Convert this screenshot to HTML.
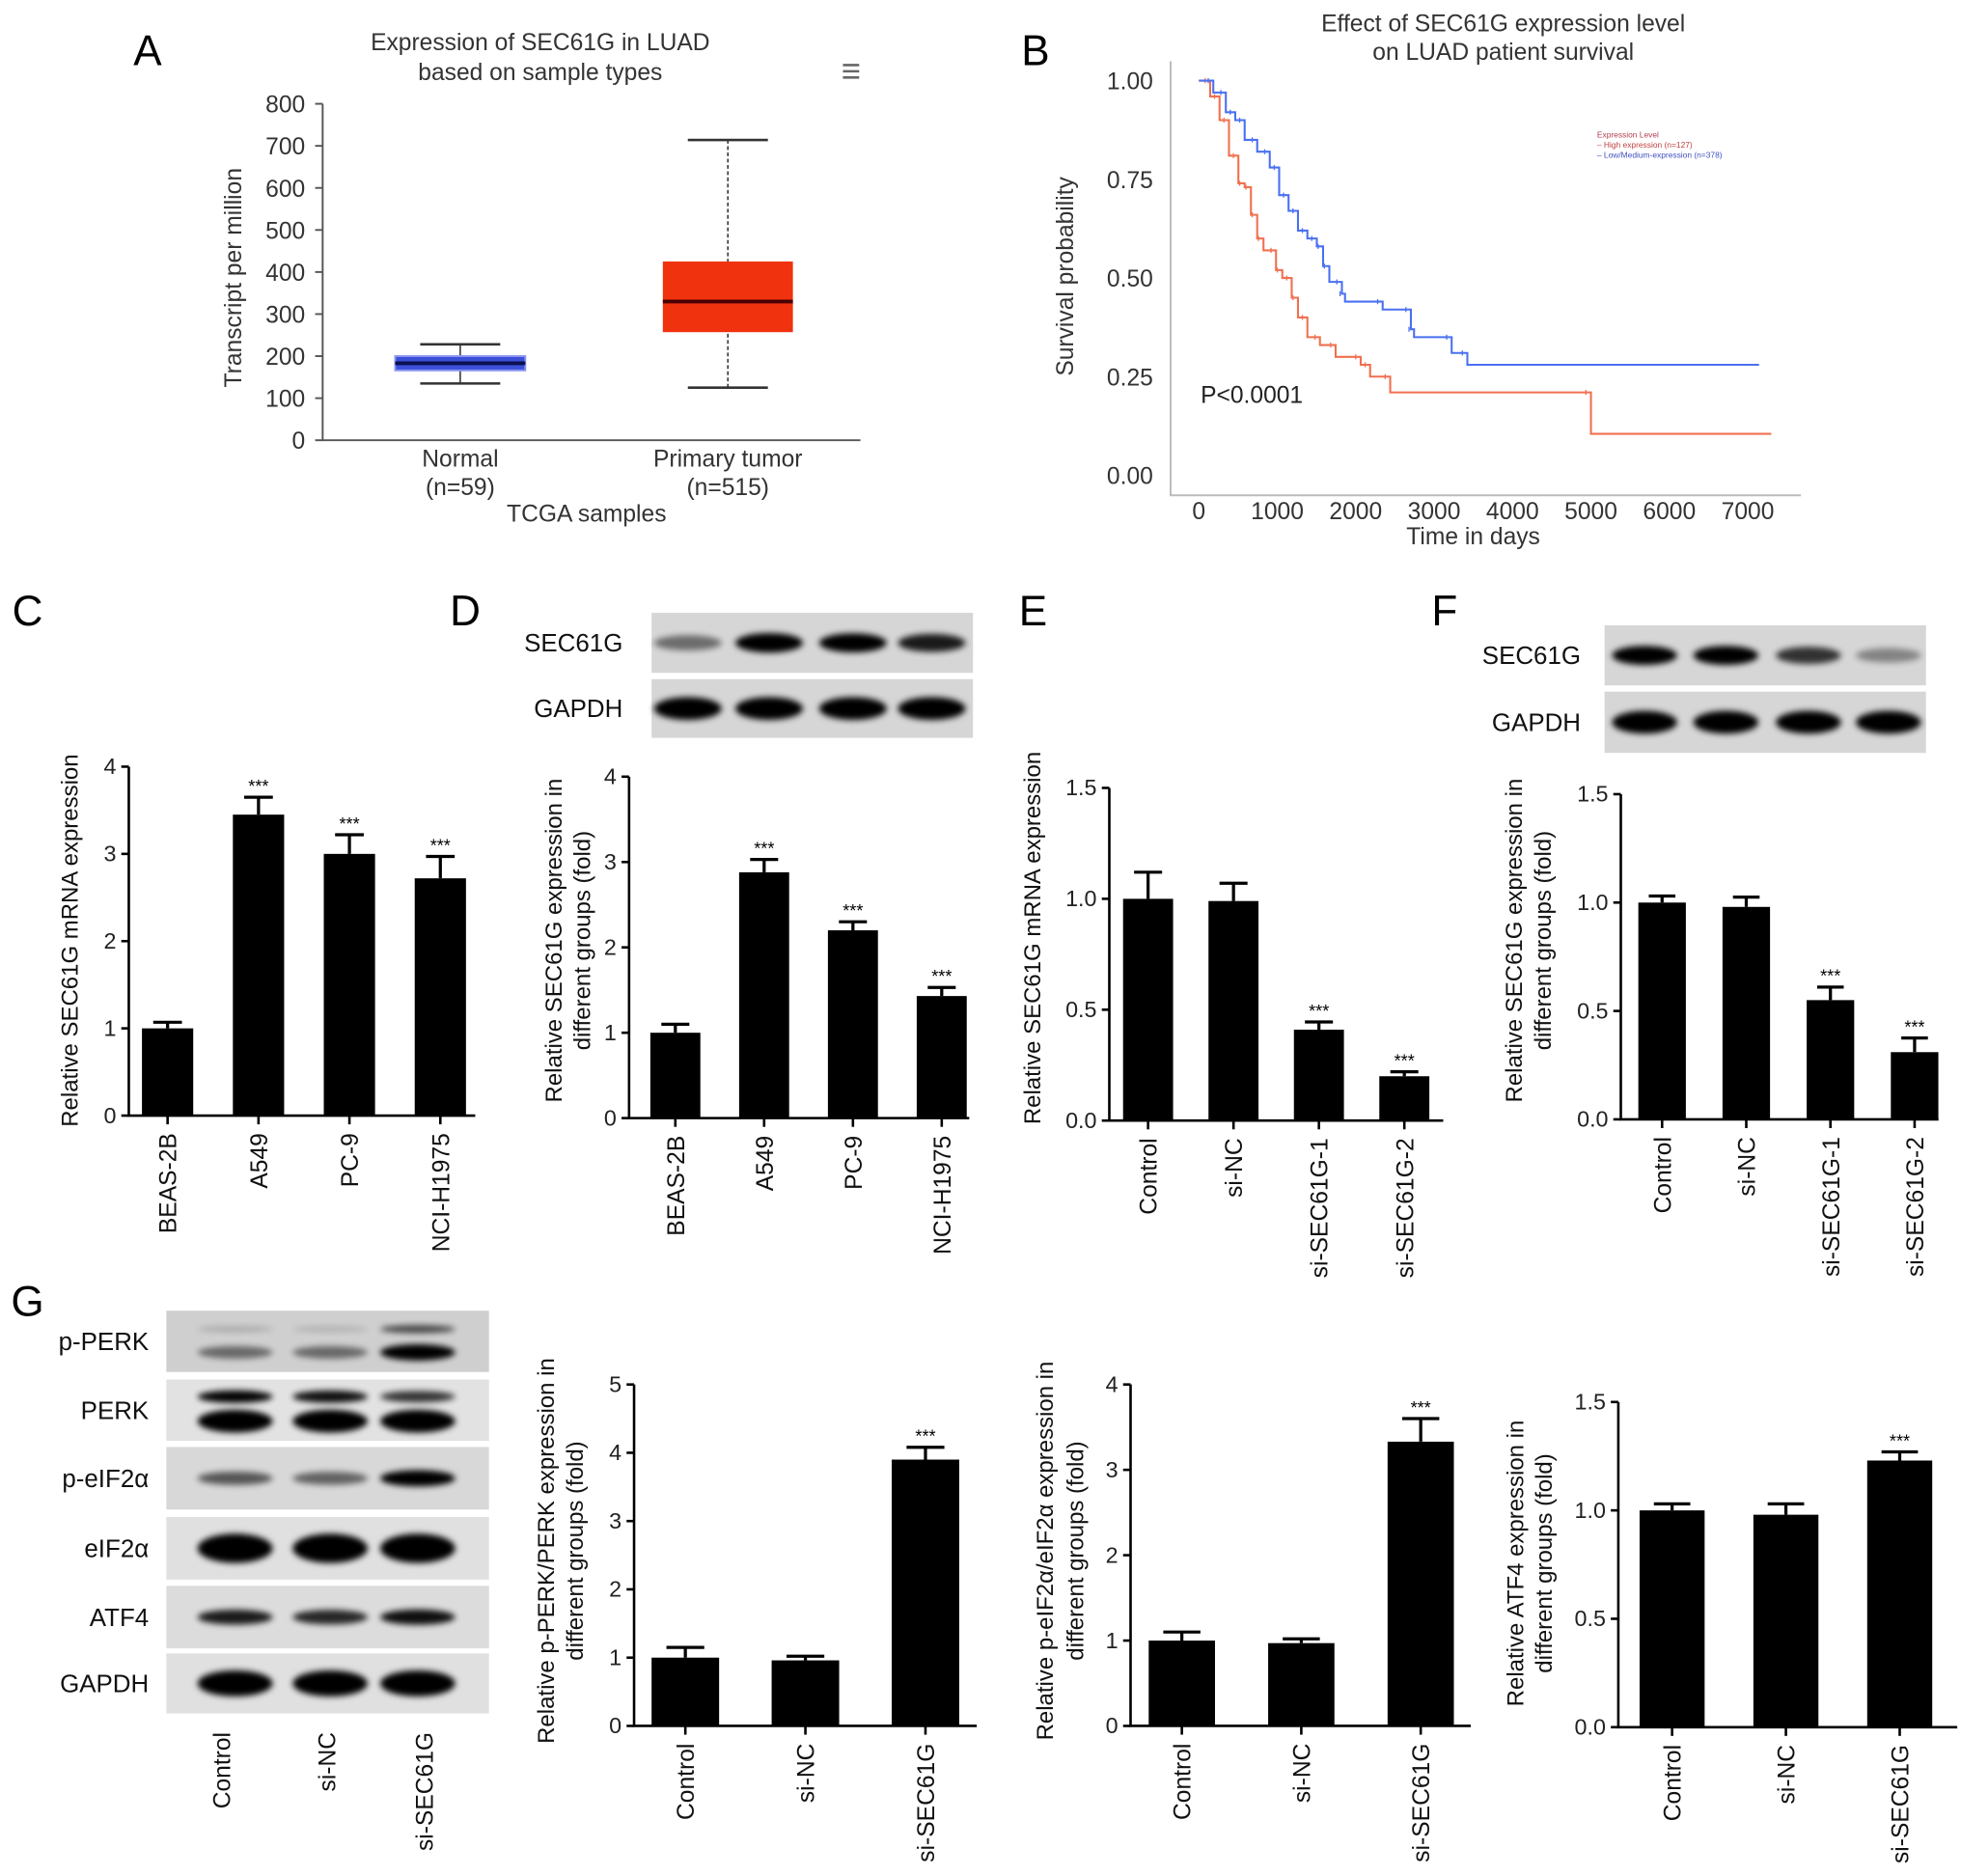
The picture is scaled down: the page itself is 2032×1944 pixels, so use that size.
<!DOCTYPE html>
<html><head><meta charset="utf-8"><style>
html,body{margin:0;padding:0;background:#fff;}
svg{display:block;font-family:"Liberation Sans",Arial,sans-serif;}
</style></head><body>
<svg id="fig" xmlns="http://www.w3.org/2000/svg" width="2032" height="1944" viewBox="0 0 1568 1500" preserveAspectRatio="none">
<defs>
<filter id="blur" x="-30%" y="-60%" width="160%" height="220%"><feGaussianBlur stdDeviation="2.4"/></filter>
</defs>
</svg>
<script>
// ---------- DATA ----------
const boxCats = ["Normal", "Primary tumor"];
const boxN = ["(n=59)", "(n=515)"];
const boxMin = [135, 125];
const boxQ1 = [166, 257];
const boxMed = [183, 330];
const boxQ3 = [200, 425];
const boxMax = [228, 714];
const boxTicks = [0, 100, 200, 300, 400, 500, 600, 700, 800];
const redT = [0, 144, 264, 384, 504, 584, 664, 744, 824, 984, 1064, 1184, 1264, 1384, 1544, 1744, 2064, 2184, 2440, 5000, 7300];
const redS = [1.0, 0.96, 0.90, 0.81, 0.74, 0.73, 0.66, 0.60, 0.57, 0.52, 0.50, 0.45, 0.40, 0.35, 0.33, 0.30, 0.28, 0.25, 0.21, 0.105, 0.105];
const blueT = [0, 184, 344, 464, 584, 744, 904, 1024, 1144, 1264, 1384, 1504, 1584, 1664, 1824, 1864, 2344, 2704, 2744, 3224, 3424, 7144];
const blueS = [1.0, 0.97, 0.92, 0.90, 0.85, 0.82, 0.78, 0.71, 0.67, 0.62, 0.60, 0.58, 0.53, 0.49, 0.46, 0.44, 0.42, 0.37, 0.35, 0.31, 0.28, 0.28];
const survYTicks = [0, 0.25, 0.5, 0.75, 1.0];
const survXTicks = [0, 1000, 2000, 3000, 4000, 5000, 6000, 7000];
const cCats = ["BEAS-2B", "A549", "PC-9", "NCI-H1975"];
const cVals = [1.0, 3.45, 3.0, 2.72];
const cErr = [0.07, 0.2, 0.22, 0.25];
const cSig = ["", "***", "***", "***"];
const dCats = ["BEAS-2B", "A549", "PC-9", "NCI-H1975"];
const dVals = [1.0, 2.88, 2.2, 1.43];
const dErr = [0.1, 0.15, 0.1, 0.1];
const dSig = ["", "***", "***", "***"];
const eCats = ["Control", "si-NC", "si-SEC61G-1", "si-SEC61G-2"];
const eVals = [1.0, 0.99, 0.41, 0.2];
const eErr = [0.12, 0.08, 0.035, 0.02];
const eSig = ["", "", "***", "***"];
const fCats = ["Control", "si-NC", "si-SEC61G-1", "si-SEC61G-2"];
const fVals = [1.0, 0.98, 0.55, 0.31];
const fErr = [0.03, 0.045, 0.06, 0.065];
const fSig = ["", "", "***", "***"];
const gCats = ["Control", "si-NC", "si-SEC61G"];
const g1Vals = [1.0, 0.96, 3.9];
const g1Err = [0.15, 0.06, 0.18];
const g2Vals = [1.0, 0.97, 3.33];
const g2Err = [0.1, 0.05, 0.27];
const g3Vals = [1.0, 0.98, 1.23];
const g3Err = [0.03, 0.05, 0.04];
const gSig = ["", "", "***"];
const intTicks4 = [0, 1, 2, 3, 4];
const intTicks5 = [0, 1, 2, 3, 4, 5];
const decTicks = [0, 0.5, 1.0, 1.5];

// ---------- HELPERS ----------
const NS = "http://www.w3.org/2000/svg";
const svg = document.getElementById("fig");
function el(tag, attrs, parent) {
  const e = document.createElementNS(NS, tag);
  for (const k in attrs) e.setAttribute(k, attrs[k]);
  (parent || svg).appendChild(e);
  return e;
}
function txt(s, attrs, parent) {
  const t = el("text", attrs, parent);
  t.textContent = s;
  return t;
}
function group(name, parent) {
  const g = el("g", {}, parent);
  
  
  return g;
}
function label(letter, x, y) {
  const t = txt(letter, {x: x, y: y, "font-size": 34, fill: "#000", "text-anchor": "middle"});
  
  
}

function barChart(name, cats, vals, errs, sigs, ticks, fmt, L) {
  const g = group(name);
  const ys = v => L.y0 - (v / ticks[ticks.length - 1]) * (L.y0 - L.yTop);
  const axis = el("path", {d: `M${L.ax},${L.yTop} L${L.ax},${L.y0} L${L.xEnd},${L.y0}`, stroke: "#000", "stroke-width": 2, fill: "none"}, g);
  
  
  ticks.forEach(t => {
    const y = ys(t);
    el("line", {x1: L.ax - 6, x2: L.ax, y1: y, y2: y, stroke: "#000", "stroke-width": 2}, g);
    const tl = txt(fmt(t), {x: L.ax - 10, y: y + 6, "font-size": 18, "text-anchor": "end", fill: "#222"}, g);
    
    
  });
  cats.forEach((c, i) => {
    const cx = L.c0 + i * L.step;
    const top = ys(vals[i]);
    const b = el("rect", {x: cx - L.bw / 2, y: top, width: L.bw, height: L.y0 - top, fill: "#000"}, g);
    
    
    const et = ys(vals[i] + errs[i]);
    const eb = el("path", {d: `M${cx},${top} L${cx},${et} M${cx - L.bw * 0.28},${et} L${cx + L.bw * 0.28},${et}`, stroke: "#000", "stroke-width": 2.5, fill: "none"}, g);
    
    
    if (sigs[i]) {
      const s = txt(sigs[i], {x: cx, y: et - 4, "font-size": 14, "text-anchor": "middle", fill: "#000"}, g);
      
      
    }
    el("line", {x1: cx, x2: cx, y1: L.y0, y2: L.y0 + 7, stroke: "#000", "stroke-width": 2}, g);
    const xl = txt(c, {x: 0, y: 0, "font-size": 19, "text-anchor": "end", fill: "#111", transform: `translate(${cx + 7},${L.y0 + 14}) rotate(-90)`}, g);
    
    
  });
  L.title.forEach((line, k) => {
    const tt = txt(line, {x: 0, y: 0, "font-size": 18.5, "text-anchor": "middle", fill: "#111", transform: `translate(${L.tx[k]},${L.ty}) rotate(-90)`}, g);
    
    
  });
}
const fInt = v => String(v);
const fDec = v => v.toFixed(1);

function blot(name, x, w, rows, lanes, laneW, parent) {
  const g = group(name, parent);
  rows.forEach(r => {
    const bg = el("rect", {x: x, y: r.y, width: w, height: r.h, fill: r.bg || "#dcdcdc"}, g);
    
    
    const l = txt(r.name, {x: r.lx, y: r.y + r.h / 2 + 7, "font-size": 20, "text-anchor": "end", fill: "#111"}, g);
    
    
    r.bands.forEach(b => {
      lanes.forEach((lx, i) => {
        const a = b.int[i];
        if (a <= 0) return;
        el("ellipse", {cx: lx, cy: r.y + r.h * b.pos, rx: laneW / 2, ry: 1.3 * b.th * (0.6 + 0.4 * a), fill: "#000", opacity: Math.min(1, a * 1.1), filter: "url(#blur)"}, g);
      });
    });
  });
}

// ---------- PANEL A ----------
label("A", 118, 52);
(function () {
  const g = group("panel-a-boxplot");
  const y = v => 352 - v * (352 - 83) / 800;
  const cxs = [368, 582];
  txt("Expression of SEC61G in LUAD", {x: 432, y: 40, "font-size": 19, "text-anchor": "middle", fill: "#333"}, g);
  txt("based on sample types", {x: 432, y: 64, "font-size": 19, "text-anchor": "middle", fill: "#333"}, g);
  const menu = el("path", {d: "M674,52 h13 M674,57 h13 M674,62 h13", stroke: "#666", "stroke-width": 2}, g);
  
  
  el("path", {d: "M258,83 L258,352 L688,352", stroke: "#555", "stroke-width": 1.5, fill: "none"}, g);
  boxTicks.forEach(t => {
    el("line", {x1: 252, x2: 258, y1: y(t), y2: y(t), stroke: "#555", "stroke-width": 1.5}, g);
    txt(String(t), {x: 244, y: y(t) + 7, "font-size": 19, "text-anchor": "end", fill: "#333"}, g);
  });
  boxCats.forEach((c, i) => {
    const cx = cxs[i];
    const fill = i === 0 ? "#3c4fd8" : "#f0320f";
    const med = i === 0 ? "#0b1050" : "#4a0000";
    el("line", {x1: cx, x2: cx, y1: y(boxMax[i]), y2: y(boxMin[i]), stroke: "#333", "stroke-width": 1.2, "stroke-dasharray": i === 1 ? "3,2" : "none"}, g);
    el("line", {x1: cx - 32, x2: cx + 32, y1: y(boxMax[i]), y2: y(boxMax[i]), stroke: "#333", "stroke-width": 2}, g);
    el("line", {x1: cx - 32, x2: cx + 32, y1: y(boxMin[i]), y2: y(boxMin[i]), stroke: "#333", "stroke-width": 2}, g);
    const b = el("rect", {x: cx - 52, y: y(boxQ3[i]), width: 104, height: y(boxQ1[i]) - y(boxQ3[i]), fill: fill, stroke: i === 0 ? "#8a95f0" : "none", "stroke-width": 1.5}, g);
    
    
    el("line", {x1: cx - 52, x2: cx + 52, y1: y(boxMed[i]), y2: y(boxMed[i]), stroke: med, "stroke-width": 3}, g);
    txt(c, {x: cx, y: 373, "font-size": 19, "text-anchor": "middle", fill: "#333"}, g);
    txt(boxN[i], {x: cx, y: 396, "font-size": 19, "text-anchor": "middle", fill: "#333"}, g);
  });
  txt("TCGA samples", {x: 469, y: 417, "font-size": 19, "text-anchor": "middle", fill: "#333"}, g);
  txt("Transcript per million", {x: 0, y: 0, "font-size": 19, "text-anchor": "middle", fill: "#333", transform: "translate(193,222) rotate(-90)"}, g);
})();

// ---------- PANEL B ----------
label("B", 828, 52);
(function () {
  const g = group("panel-b-survival");
  const xs = t => 958.6 + t * 0.0627;
  const ys = s => 380 - s * 315.5;
  txt("Effect of SEC61G expression level", {x: 1202, y: 25, "font-size": 19, "text-anchor": "middle", fill: "#333"}, g);
  txt("on LUAD patient survival", {x: 1202, y: 48, "font-size": 19, "text-anchor": "middle", fill: "#333"}, g);
  el("path", {d: "M936,49 L936,396 L1440,396", stroke: "#bbb", "stroke-width": 1.5, fill: "none"}, g);
  survYTicks.forEach(t => {
    txt(t.toFixed(2), {x: 922, y: ys(t) + 7, "font-size": 19, "text-anchor": "end", fill: "#333"}, g);
  });
  survXTicks.forEach(t => {
    txt(String(t), {x: xs(t), y: 415, "font-size": 19, "text-anchor": "middle", fill: "#333"}, g);
  });
  txt("Time in days", {x: 1178, y: 435, "font-size": 19, "text-anchor": "middle", fill: "#333"}, g);
  txt("Survival probability", {x: 0, y: 0, "font-size": 19, "text-anchor": "middle", fill: "#333", transform: "translate(858,221) rotate(-90)"}, g);
  txt("P<0.0001", {x: 960, y: 322, "font-size": 19, fill: "#222"}, g);
  function curve(T, S, color, name) {
    let d = `M${xs(T[0])},${ys(S[0])}`;
    for (let i = 1; i < T.length; i++) {
      d += ` L${xs(T[i])},${ys(S[i - 1])} L${xs(T[i])},${ys(S[i])}`;
    }
    const p = el("path", {d: d, stroke: color, "stroke-width": 1.6, fill: "none"}, g);
    
    
    for (let i = 1; i < T.length - 1; i++) {
      el("line", {x1: xs(T[i]) - 4, x2: xs(T[i]) - 4, y1: ys(S[i - 1]) - 2, y2: ys(S[i - 1]) + 2, stroke: color, "stroke-width": 1}, g);
    }
  }
  curve(redT, redS, "#f07050", "high-expression-curve");
  curve(blueT, blueS, "#4a70f0", "low-medium-expression-curve");
  const lg = group("legend", g);
  txt("Expression Level", {x: 1277, y: 110, "font-size": 6.5, fill: "#b04050"}, lg);
  txt("– High expression (n=127)", {x: 1277, y: 118, "font-size": 6.5, fill: "#c04040"}, lg);
  txt("– Low/Medium-expression (n=378)", {x: 1277, y: 126, "font-size": 6.5, fill: "#4050c0"}, lg);
})();

// ---------- PANEL C ----------
label("C", 22, 500);
barChart("panel-c-chart", cCats, cVals, cErr, cSig, intTicks4, fInt,
  {ax: 103, xEnd: 380, y0: 892, yTop: 613, c0: 134, step: 72.7, bw: 41,
   title: ["Relative SEC61G mRNA expression"], tx: [62], ty: 752});

// ---------- PANEL D ----------
label("D", 372, 500);
blot("panel-d-blot", 521, 257, [
  {name: "SEC61G", y: 490, h: 48, lx: 498, bg: "#d6d6d6", bands: [{pos: 0.5, th: 6, int: [0.45, 1.0, 0.95, 0.8]}]},
  {name: "GAPDH", y: 543, h: 47, lx: 498, bg: "#d6d6d6", bands: [{pos: 0.5, th: 7, int: [1, 1, 1, 1]}]}
], [550, 615, 682, 745], 54);
barChart("panel-d-chart", dCats, dVals, dErr, dSig, intTicks4, fInt,
  {ax: 503, xEnd: 775, y0: 894, yTop: 621, c0: 540, step: 71, bw: 40,
   title: ["Relative SEC61G expression in", "different groups (fold)"], tx: [449, 472], ty: 752});

// ---------- PANEL E ----------
label("E", 826, 500);
barChart("panel-e-chart", eCats, eVals, eErr, eSig, decTicks, fDec,
  {ax: 887, xEnd: 1154, y0: 896, yTop: 630, c0: 918, step: 68.3, bw: 40,
   title: ["Relative SEC61G mRNA expression"], tx: [832], ty: 750});

// ---------- PANEL F ----------
label("F", 1155, 500);
blot("panel-f-blot", 1283, 257, [
  {name: "SEC61G", y: 500, h: 48, lx: 1264, bg: "#d6d6d6", bands: [{pos: 0.5, th: 6, int: [0.95, 0.95, 0.7, 0.35]}]},
  {name: "GAPDH", y: 553, h: 49, lx: 1264, bg: "#d6d6d6", bands: [{pos: 0.5, th: 7, int: [1, 1, 1, 1]}]}
], [1315, 1380, 1446, 1510], 52);
barChart("panel-f-chart", fCats, fVals, fErr, fSig, decTicks, fDec,
  {ax: 1296, xEnd: 1550, y0: 895, yTop: 635, c0: 1329, step: 67.3, bw: 38,
   title: ["Relative SEC61G expression in", "different groups (fold)"], tx: [1217, 1240], ty: 752});

// ---------- PANEL G ----------
label("G", 22, 1052);
(function () {
  const g = group("panel-g-blot");
  const lanes = [188, 264, 334];
  blot("panel-g-blot-rows", 133, 258, [
    {name: "p-PERK", y: 1048, h: 49, lx: 119, bg: "#cfcfcf", bands: [{pos: 0.3, th: 3, int: [0.15, 0.12, 0.6]}, {pos: 0.68, th: 5, int: [0.45, 0.45, 1.0]}]},
    {name: "PERK", y: 1103, h: 49, lx: 119, bg: "#e2e2e2", bands: [{pos: 0.28, th: 4, int: [0.9, 0.85, 0.7]}, {pos: 0.68, th: 7, int: [1, 1, 1]}]},
    {name: "p-eIF2α", y: 1157, h: 50, lx: 119, bg: "#d8d8d8", bands: [{pos: 0.5, th: 5, int: [0.55, 0.5, 1.0]}]},
    {name: "eIF2α", y: 1213, h: 50, lx: 119, bg: "#e0e0e0", bands: [{pos: 0.5, th: 9, int: [1, 1, 1]}]},
    {name: "ATF4", y: 1268, h: 50, lx: 119, bg: "#dcdcdc", bands: [{pos: 0.5, th: 5, int: [0.8, 0.75, 0.85]}]},
    {name: "GAPDH", y: 1322, h: 48, lx: 119, bg: "#e0e0e0", bands: [{pos: 0.5, th: 8, int: [1, 1, 1]}]}
  ], lanes, 60, g);
  gCats.forEach((c, i) => {
    const t = txt(c, {x: 0, y: 0, "font-size": 19, "text-anchor": "end", fill: "#111", transform: `translate(${[184, 268, 346][i]},1385) rotate(-90)`}, g);
    
    
  });
})();
barChart("panel-g-pperk-chart", gCats, g1Vals, g1Err, gSig, intTicks5, fInt,
  {ax: 507, xEnd: 781, y0: 1380, yTop: 1107, c0: 548, step: 96, bw: 54,
   title: ["Relative p-PERK/PERK expression in", "different groups (fold)"], tx: [443, 466], ty: 1240});
barChart("panel-g-peif2a-chart", gCats, g2Vals, g2Err, gSig, intTicks4, fInt,
  {ax: 904, xEnd: 1176, y0: 1380, yTop: 1107, c0: 945, step: 95.5, bw: 53,
   title: ["Relative p-eIF2α/eIF2α expression in", "different groups (fold)"], tx: [842, 866], ty: 1240});
barChart("panel-g-atf4-chart", gCats, g3Vals, g3Err, gSig, decTicks, fDec,
  {ax: 1294, xEnd: 1565, y0: 1381, yTop: 1121, c0: 1337, step: 91, bw: 52,
   title: ["Relative ATF4 expression in", "different groups (fold)"], tx: [1218, 1241], ty: 1250});
</script>
</body></html>
